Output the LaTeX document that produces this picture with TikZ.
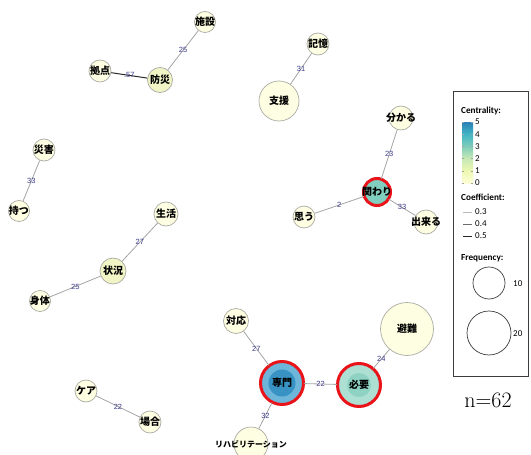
\documentclass[tikz,border=0pt]{standalone}
\usepackage{fontspec}
\setsansfont{Carlito}
\newfontfamily\jp{Noto Sans CJK JP}
\newfontfamily\numfont{Liberation Sans}

\definecolor{nodefill}{HTML}{FEFEE2}
\definecolor{nodefillb}{HTML}{F1F5C6}
\definecolor{nodeedge}{HTML}{ABABA4}
\definecolor{edgegray}{HTML}{A4A4A4}
\definecolor{edgedark}{HTML}{2A2A2A}
\definecolor{labblue}{HTML}{3A3A8C}
\definecolor{ringred}{HTML}{E8141A}
\definecolor{senout}{HTML}{6DB6DA}
\definecolor{senin}{HTML}{3892C4}
\definecolor{hitout}{HTML}{ADDFD3}
\definecolor{hitin}{HTML}{8DD2C3}
\definecolor{kakfill}{HTML}{80CFBF}
\definecolor{cb0}{HTML}{FFFFD9}
\definecolor{cb1}{HTML}{EDF8B1}
\definecolor{cb2}{HTML}{C7E9B4}
\definecolor{cb3}{HTML}{7FCDBB}
\definecolor{cb4}{HTML}{41B6C4}
\definecolor{cb5}{HTML}{2C7FB8}
\definecolor{boxline}{HTML}{3C3C3C}

\tikzset{
  kw/.style={circle, draw=nodeedge, line width=0.7pt, fill=nodefill, inner sep=0pt},
  kwtext/.style={font=\jp\bfseries\fontsize{10}{10}\selectfont, inner sep=0pt},
  lnk/.style={draw=edgegray, line width=0.8pt},
  wlab/.style={font=\numfont\fontsize{7.5}{7.5}\selectfont, text=labblue, inner sep=0.5pt},
  redring/.style={postaction={draw=ringred, line width=3pt}},
  legtext/.style={font=\sffamily\fontsize{9}{9}\selectfont, inner sep=0pt, anchor=west},
  leghead/.style={font=\sffamily\bfseries\fontsize{9.2}{9.2}\selectfont, inner sep=0pt, anchor=west},
}

\begin{document}
\begin{tikzpicture}[x=1pt, y=-1pt]
\useasboundingbox (0,0) rectangle (531,455);

% ---- keyword nodes (the word is a centred label, so it never widens the circle) ----
\node[kw, minimum size=21pt, label={[kwtext]center:施設}] (shisetsu) at (205,22) {};
\node[kw, minimum size=25pt, fill=nodefillb, label={[kwtext]center:防災}] (bousai) at (160,80) {};
\node[kw, minimum size=22pt, label={[kwtext]center:拠点}] (kyoten) at (100,71) {};
\node[kw, minimum size=22pt, label={[kwtext]center:記憶}] (kioku) at (318,44) {};
\node[kw, minimum size=40pt, label={[kwtext]center:支援}] (shien) at (279,101) {};
\node[kw, minimum size=24pt, label={[kwtext]center:分かる}] (wakaru) at (401,118) {};
\node[kw, minimum size=27pt, fill=kakfill, redring, label={[kwtext]center:関わり}] (kakawari) at (377,192) {};
\node[kw, minimum size=22pt, label={[kwtext]center:思う}] (omou) at (304,217) {};
\node[kw, minimum size=24pt, label={[kwtext]center:出来る}] (dekiru) at (426,222) {};
\node[kw, minimum size=22pt, label={[kwtext]center:災害}] (saigai) at (44,150) {};
\node[kw, minimum size=21pt, label={[kwtext]center:持つ}] (motsu) at (19,211) {};
\node[kw, minimum size=24pt, label={[kwtext]center:生活}] (seikatsu) at (166,214) {};
\node[kw, minimum size=26pt, fill=nodefillb, label={[kwtext]center:状況}] (joukyou) at (113,271) {};
\node[kw, minimum size=21pt, label={[kwtext]center:身体}] (shintai) at (40,301) {};
\node[kw, minimum size=25pt, label={[kwtext]center:対応}] (taiou) at (236,321) {};
\node[kw, minimum size=43pt, fill=senout, redring,
      path picture={\fill[senin] (path picture bounding box.center) circle (13.5pt);},
      label={[kwtext]center:専門}] (senmon) at (282,383) {};
\node[kw, minimum size=43pt, fill=hitout, redring,
      path picture={\fill[hitin] (path picture bounding box.center) circle (12pt);},
      label={[kwtext]center:必要}] (hitsuyou) at (359,385) {};
\node[kw, minimum size=53pt, label={[kwtext]center:避難}] (hinan) at (407,329) {};
\node[kw, minimum size=34pt,
      label={[kwtext, font=\jp\bfseries\fontsize{8}{8}\selectfont]center:リハビリテーション}] (reha) at (251,444) {};
\node[kw, minimum size=22pt, label={[kwtext]center:ケア}] (kea) at (86,391) {};
\node[kw, minimum size=22pt, label={[kwtext]center:場合}] (baai) at (150,422) {};

% ---- co-occurrence links ----
\draw[lnk] (shisetsu) -- node[wlab]{25} (bousai);
\draw[lnk, draw=edgedark, line width=1pt] (kyoten) -- node[wlab]{.57} (bousai);
\draw[lnk] (kioku) -- node[wlab]{31} (shien);
\draw[lnk] (wakaru) -- node[wlab]{23} (kakawari);
\draw[lnk] (kakawari) -- node[wlab]{2} (omou);
\draw[lnk] (kakawari) -- node[wlab]{33} (dekiru);
\draw[lnk] (saigai) -- node[wlab]{33} (motsu);
\draw[lnk] (seikatsu) -- node[wlab]{27} (joukyou);
\draw[lnk] (joukyou) -- node[wlab]{25} (shintai);
\draw[lnk] (taiou) -- node[wlab]{27} (senmon);
\draw[lnk] (senmon) -- node[wlab]{22} (hitsuyou);
\draw[lnk] (hitsuyou) -- node[wlab]{24} (hinan);
\draw[lnk] (senmon) -- node[wlab]{32} (reha);
\draw[lnk] (kea) -- node[wlab]{22} (baai);

% ---- legend ----
\node[draw=boxline, line width=0.8pt, minimum width=75pt, minimum height=285pt,
      inner sep=0pt, anchor=north west] (legend) at (453,91) {};
\node[leghead] (lcent) at (461,111) {Centrality:};
% colour bar, 0 at the bottom and 5 at the top
\foreach \i/\ca/\cb in {0/cb0/cb1, 1/cb1/cb2, 2/cb2/cb3, 3/cb3/cb4, 4/cb4/cb5} {
  \shade[bottom color=\ca, top color=\cb] (462,{183-12.2*\i}) rectangle (473,{183-12.2*(\i+1)+0.01});
}
\foreach \i in {0,...,5} {
  \draw[gray!70, line width=0.4pt] (462,{183-12.2*\i}) -- (464,{183-12.2*\i});
  \draw[gray!70, line width=0.4pt] (471,{183-12.2*\i}) -- (473,{183-12.2*\i});
  \node[legtext] at (475,{183-12.2*\i}) {\i};
}
\node[leghead] (lcoef) at (461,197) {Coefficient:};
\draw[gray!55, line width=0.8pt] (463,212) -- (472,212);
\node[legtext] at (475,212) {0.3};
\draw[gray!85!black, line width=0.8pt] (463,224) -- (472,224);
\node[legtext] at (475,224) {0.4};
\draw[black!85, line width=0.8pt] (463,236) -- (472,236);
\node[legtext] at (475,236) {0.5};
\node[leghead] (lfreq) at (461,258) {Frequency:};
\node[circle, draw=boxline, line width=0.7pt, minimum size=32pt, inner sep=0pt] (f10) at (489,283) {};
\node[legtext] at (513,284) {10};
\node[circle, draw=boxline, line width=0.7pt, minimum size=44pt, inner sep=0pt] (f20) at (489,333) {};
\node[legtext] at (513,334) {20};

\node[font=\rmfamily\fontsize{22}{22}\selectfont, inner sep=0pt] (ncount) at (488,400) {n=62};
\end{tikzpicture}
\end{document}
